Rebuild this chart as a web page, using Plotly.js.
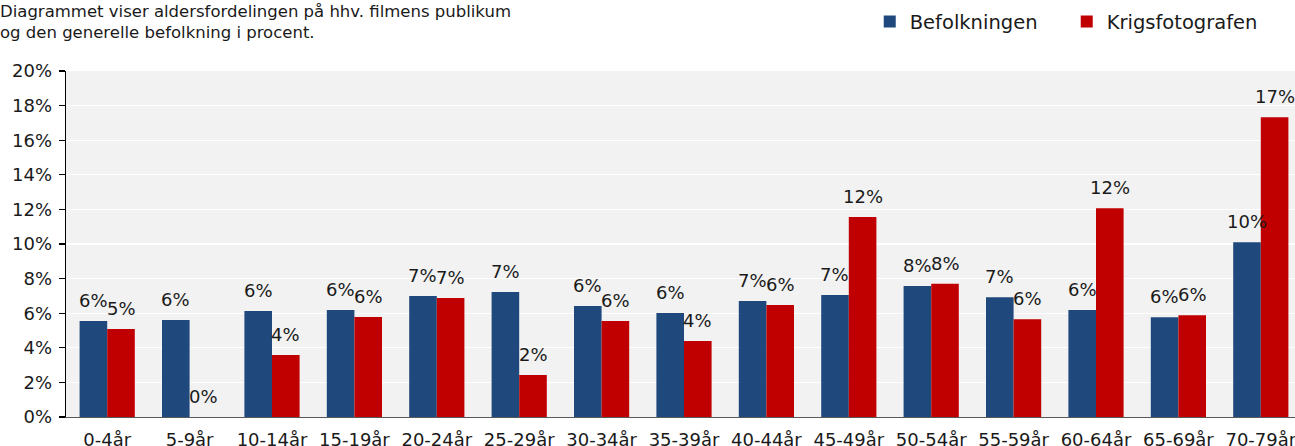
<!DOCTYPE html>
<html><head><meta charset="utf-8">
<script src="https://cdn.plot.ly/plotly-3.0.1.min.js"></script>
<style>html,body{margin:0;padding:0;overflow:hidden;background:#fff;width:1295px;height:446px}#chart{width:1302px;height:446px}</style>
</head><body><div id="chart"></div>
<script>
const categories = ["0-4år","5-9år","10-14år","15-19år","20-24år","25-29år","30-34år","35-39år","40-44år","45-49år","50-54år","55-59år","60-64år","65-69år","70-79år"];
const befolkningen = [5.55,5.6,6.13,6.18,6.99,7.23,6.42,6.01,6.71,7.05,7.57,6.92,6.18,5.76,10.1];
const krigsfotografen = [5.09,0,3.58,5.78,6.88,2.43,5.55,4.39,6.47,11.56,7.70,5.65,12.06,5.88,17.32];
const seriesNames = ["Befolkningen","Krigsfotografen"];
const titleText = "Diagrammet viser aldersfordelingen på hhv. filmens publikum<br>og den generelle befolkning i procent.";
const yTicks = [0,2,4,6,8,10,12,14,16,18,20];

const FONT = "DejaVu Sans, Verdana, sans-serif";
const W = 1302, ML = 66, MR = 0, BARGAP = 0.33;
const mk = (name, vals, color) => ({
  type: 'bar', name: name, x: categories, y: vals,
  marker: {color: color, line: {width: 0}},
  hoverinfo: 'skip'
});
const data = [
  mk(seriesNames[0], befolkningen, '#1f497d'),
  mk(seriesNames[1], krigsfotografen, '#c00000')
];
const catW = (W - ML - MR) / categories.length;
const barW = catW * (1 - BARGAP) / 2;
const annotations = [];
[befolkningen, krigsfotografen].forEach((vals, s) => {
  vals.forEach((v, i) => {
    annotations.push({
      x: categories[i], y: v, xref: 'x', yref: 'y',
      text: Math.round(v) + '%', showarrow: false,
      xanchor: 'center', yanchor: 'bottom',
      xshift: (s === 0 ? -1 : 1) * barW / 2, yshift: 8,
      font: {family: FONT, size: 18, color: '#1a1a1a'}
    });
  });
});
const layout = {
  width: W, height: 446,
  margin: {l: ML, r: MR, t: 71, b: 29},
  paper_bgcolor: '#ffffff', plot_bgcolor: '#f2f2f2',
  font: {family: FONT, size: 18, color: '#1a1a1a'},
  title: {text: titleText, x: 0, xref: 'container', xanchor: 'left', y: 0.962, yanchor: 'top',
          font: {family: FONT, size: 16.5, color: '#1a1a1a'}},
  barmode: 'group', bargap: BARGAP, bargroupgap: 0,
  showlegend: true,
  legend: {orientation: 'h', x: 0.668, xref: 'container', xanchor: 'left', y: 0.995, yref: 'container', yanchor: 'top',
           font: {family: FONT, size: 19.5, color: '#1a1a1a'}, entrywidth: 152, itemclick: false, traceorder: 'normal'},
  annotations: annotations,
  xaxis: {type: 'category', showline: true, linecolor: '#595959', linewidth: 1.3, ticks: '', showgrid: false,
          tickfont: {family: FONT, size: 18}, ticklabelstandoff: 6},
  yaxis: {range: [0, 20], tickvals: yTicks, ticktext: yTicks.map(v => v + '%'), showline: true, linecolor: '#000000', linewidth: 1.3,
          ticks: 'outside', ticklen: 6, tickcolor: '#000000', tickwidth: 1.3, gridcolor: '#ffffff', gridwidth: 1.3, zeroline: false,
          tickfont: {family: FONT, size: 18}, ticklabelstandoff: 3}
};
Plotly.newPlot('chart', data, layout, {staticPlot: true, displayModeBar: false});
</script></body></html>
